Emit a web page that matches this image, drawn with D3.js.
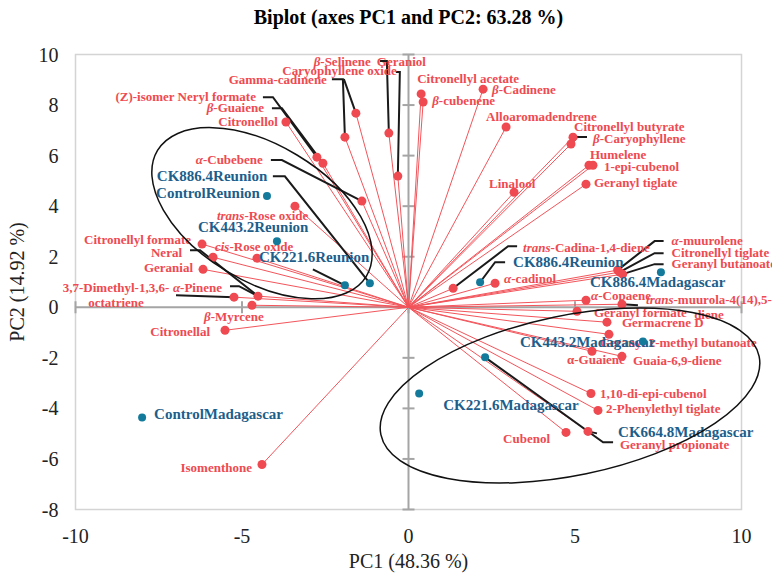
<!DOCTYPE html>
<html>
<head>
<meta charset="utf-8">
<script src="https://cdn.jsdelivr.net/npm/d3@7"></script>
<style>
  html, body { margin: 0; padding: 0; background: #fff; }
  svg { display: block; font-family: "Liberation Serif", "Times New Roman", serif; }
</style>
</head>
<body>
<svg id="chart" width="772" height="576"></svg>
<script>
// Variable loadings (PC1, PC2)
const varNames = [
  "(Z)-isomer Neryl formate", "β-Guaiene", "Citronellol", "Gamma-cadinene", "β-Selinene",
  "Geraniol", "Caryophyllene oxide", "Citronellyl acetate", "β-cubenene", "β-Cadinene",
  "Alloaromadendrene", "Linalool", "Citronellyl butyrate", "β-Caryophyllene", "Humelene",
  "1-epi-cubenol", "Geranyl tiglate", "α-Cubebene", "trans-Rose oxide", "cis-Rose oxide",
  "Citronellyl formate", "Neral", "Geranial", "3,7-Dimethyl-1,3,6-octatriene", "α-Pinene",
  "β-Myrcene", "Citronellal", "Isomenthone", "trans-Cadina-1,4-diene", "α-cadinol",
  "α-muurolene", "Citronellyl tiglate", "Geranyl butanoate", "α-Copaene", "trans-muurola-4(14),5-diene",
  "Geranyl formate", "Germacrene D", "Geranyl 2-methyl butanoate", "α-Guaiene", "Guaia-6,9-diene",
  "1,10-di-epi-cubenol", "2-Phenylethyl tiglate", "Cubenol", "Geranyl propionate"
];
const varPC1 = [
  -2.75, -2.57, -3.68, -1.91, -1.58,
  -0.59, -0.32, 0.38, 0.44, 2.24,
  2.93, 3.17, 4.94, 4.88, 5.42,
  5.54, 5.33, -1.40, -3.41, -4.55,
  -6.20, -5.87, -6.17, -5.24, -4.52,
  -4.70, -5.51, -4.40, 1.34, 2.60,
  6.28, 6.34, 6.43, 5.33, 6.41,
  5.06, 5.96, 6.02, 5.51, 6.41,
  5.48, 5.69, 4.73, 5.39
];
const varPC2 = [
  5.94, 5.70, 7.33, 6.73, 7.68,
  6.89, 5.19, 8.44, 8.12, 8.63,
  7.13, 4.55, 6.73, 6.46, 5.62,
  5.62, 4.87, 4.20, 4.00, 1.94,
  2.50, 1.98, 1.50, 0.40, 0.44,
  0.08, -0.91, -6.22, 0.75, 0.95,
  1.47, 1.39, 1.31, 0.28, 0.12,
  -0.16, -0.59, -1.07, -1.74, -1.94,
  -3.41, -4.08, -4.95, -4.91
];

// Observation scores (PC1, PC2)
const obsNames = [
  "ControlReunion", "CK443.2Reunion", "CK221.6Reunion", "CK886.4Reunion", "CK886.4Reunion",
  "CK886.4Madagascar", "CK443.2Madagascar", "CK664.8Madagascar", "CK221.6Madagascar", "ControlMadagascar"
];
const obsPC1 = [-4.25, -3.95, -1.91, -1.16, 2.15, 7.58, 7.04, 2.30, 0.32, -8.00];
const obsPC2 = [4.40, 2.61, 0.87, 0.95, 0.99, 1.39, -1.35, -1.98, -3.41, -4.36];

// Axis ticks
const xTicks = [-10, -5, 0, 5, 10];
const yTicks = [-8, -6, -4, -2, 0, 2, 4, 6, 8, 10];

// Group ellipses: centre, semi-axes (PC1 units), rotation on screen (deg)
const groupEllipses = [
  { cx: -4.40, cy: 3.72, rx: 3.66, ry: 2.04, angle: 31 },
  { cx: 4.85, cy: -3.49, rx: 5.80, ry: 2.40, angle: -11.7 }
];

// Label placement, pixel offsets from the point: [dx, dy, anchor, leader, lines]
// leader: [startDx, startDy, elbowDx, targetIndex?]
const varLabelLayout = [
  [-61, -60, "end", [-54, -60, -44]],
  [-59, -55, "end", [-51, -55, -41]],
  [-8, 0, "end"],
  [-18, -57, "end", [-13, -58, -2]],
  [15, -51, "end", [-12, -34, -12]],
  [-12, -71, "start", [-9, -72, -2]],
  [-1, -105, "end", [-2, -104, 2]],
  [-4, -15, "start"],
  [9, -1, "start"],
  [9, 1, "start"],
  [-20, -10, "start"],
  [-25, -9, "start"],
  [1, -10, "start"],
  [22, -5, "start", [16, -7, 6]],
  [1, -11, "start"],
  [11, 1, "start"],
  [8, -1, "start"],
  [-99, -41, "end", [-91, -41, -80]],
  [-78, 10, "start"],
  [-42, -12, "start"],
  [-11, -4, "end"],
  [-31, -5, "end", [-23, -7, -13, 24]],
  [-10, -2, "end"],
  [-118, -9, "middle", [-58, -2, -58], ["3,7-Dimethyl-1,3,6-", "octatriene"]],
  [-36, -8, "end", [-28, -10, -19]],
  [-48, 11, "start"],
  [-15, 1, "end"],
  [-10, 3, "end"],
  [70, -41, "start", [64, -42, 55]],
  [9, -5, "start"],
  [54, -29, "start", [46, -29, 37]],
  [52, -19, "start", [44, -19, 35]],
  [49, -10, "start", [41, -10, 32]],
  [5, -4, "start"],
  [87, -5, "middle", [16, 1, 16], ["trans-muurola-4(14),5-", "diene"]],
  [17, 1, "start"],
  [15, 1, "start"],
  [-9, 8, "start"],
  [-25, 8, "start"],
  [11, 4, "start"],
  [9, 0, "start"],
  [8, -2, "start"],
  [-16, 6, "end"],
  [32, 13, "start", [9, 2, 9]]
];
const obsLabelLayout = [
  [-7, -3, "end"],
  [-79, -14, "start"],
  [-86, -28, "start", [-32, -16, -32]],
  [-213, -107, "start", [-97, -107, -85]],
  [33, -20, "start", [25, -20, 15]],
  [-71, 10, "start"],
  [-123, 1, "start"],
  [133, 75, "start", [128, 85, 118]],
  [24, 12, "start"],
  [12, -3, "start"]
];

const RED = "#ef4a51", RED_LINE = "#f2555b", BLUE_TXT = "#1d5e8b", BLUE_DOT = "#137a9b";

const svg = d3.select("#chart");
const W = 772, H = 576;
const margin = { top: 54.5, right: 30.5, bottom: 66.5, left: 75.5 };

const x = d3.scaleLinear().domain([-10, 10]).range([margin.left, W - margin.right]);
const y = d3.scaleLinear().domain([-8, 10]).range([H - margin.bottom, margin.top]);
const unitPx = x(1) - x(0);

// Title
svg.append("text")
  .attr("x", x(0)).attr("y", 24)
  .attr("text-anchor", "middle")
  .attr("font-size", 20).attr("font-weight", "bold")
  .text("Biplot (axes PC1 and PC2: 63.28 %)");

// Plot frame
svg.append("rect")
  .attr("x", x(-10)).attr("y", y(10))
  .attr("width", x(10) - x(-10)).attr("height", y(-8) - y(10))
  .attr("fill", "none").attr("stroke", "#d4d4d4").attr("stroke-width", 1.5);

// Tick labels
svg.append("g").selectAll("text").data(xTicks).join("text")
  .attr("x", d => x(d)).attr("y", y(-8) + 33)
  .attr("text-anchor", "middle").attr("font-size", 20).attr("fill", "#222")
  .text(d => d);
svg.append("g").selectAll("text").data(yTicks).join("text")
  .attr("x", x(-10) - 17).attr("y", d => y(d) + 7)
  .attr("text-anchor", "end").attr("font-size", 20).attr("fill", "#222")
  .text(d => d);

// Axis titles
svg.append("text")
  .attr("x", x(0)).attr("y", H - 8)
  .attr("text-anchor", "middle").attr("font-size", 20).attr("fill", "#222")
  .text("PC1 (48.36 %)");
svg.append("text")
  .attr("transform", `translate(24,${y(1)}) rotate(-90)`)
  .attr("text-anchor", "middle").attr("font-size", 20).attr("fill", "#222")
  .text("PC2 (14.92 %)");

// Zero axes with cross ticks
const axisG = svg.append("g").attr("stroke", "#a5a5a5").attr("stroke-width", 2);
axisG.append("line").attr("x1", x(-10)).attr("x2", x(10)).attr("y1", y(0)).attr("y2", y(0));
axisG.append("line").attr("x1", x(0)).attr("x2", x(0)).attr("y1", y(-8)).attr("y2", y(10));
axisG.selectAll("line.yt").data(yTicks).join("line").attr("class", "yt")
  .attr("x1", x(0) - 6).attr("x2", x(0) + 6)
  .attr("y1", d => y(d)).attr("y2", d => y(d));
axisG.selectAll("line.xt").data(xTicks).join("line").attr("class", "xt")
  .attr("x1", d => x(d)).attr("x2", d => x(d))
  .attr("y1", y(0) - 6).attr("y2", y(0) + 6);

const vars = varNames.map((n, i) => ({ name: n, px: x(varPC1[i]), py: y(varPC2[i]), lay: varLabelLayout[i] }));
const obs = obsNames.map((n, i) => ({ name: n, px: x(obsPC1[i]), py: y(obsPC2[i]), lay: obsLabelLayout[i] }));

// Loading vectors
svg.append("g").selectAll("line").data(vars).join("line")
  .attr("x1", x(0)).attr("y1", y(0))
  .attr("x2", d => d.px).attr("y2", d => d.py)
  .attr("stroke", RED_LINE).attr("stroke-width", 1);

// Leader lines
function leaderPath(d, list) {
  const L = d.lay[3];
  const tgt = L.length > 3 ? list[L[3]] : d;
  return d3.line()([[d.px + L[0], d.py + L[1]], [d.px + L[2], d.py + L[1]], [tgt.px, tgt.py]]);
}
const leadG = svg.append("g").attr("fill", "none").attr("stroke", "#1a1a1a").attr("stroke-width", 2);
leadG.selectAll("path.v").data(vars.filter(d => d.lay[3])).join("path").attr("class", "v")
  .attr("d", d => leaderPath(d, vars));
leadG.selectAll("path.o").data(obs.filter(d => d.lay[3])).join("path").attr("class", "o")
  .attr("d", d => leaderPath(d, obs));

// Variable labels, with italic stereo prefixes
const italicPrefix = /^(α|β|trans|cis)-/;
function addRich(textSel, str, noItalic) {
  const m = str.match(italicPrefix);
  if (m && !noItalic) {
    textSel.append("tspan").attr("font-style", "italic").text(m[1]);
    textSel.append("tspan").text(str.slice(m[1].length));
  } else {
    textSel.append("tspan").text(str);
  }
}
const varLab = svg.append("g").attr("font-size", 13).attr("font-weight", "bold").attr("fill", RED);
vars.forEach(d => {
  const [dx, dy, anchor] = d.lay;
  const lines = d.lay[4] || [d.name];
  lines.forEach((ln, k) => {
    const t = varLab.append("text")
      .attr("x", d.px + dx).attr("y", d.py + dy + k * 15)
      .attr("dy", "0.33em").attr("text-anchor", anchor);
    addRich(t, ln, d.name === "α-Guaiene");
  });
});

// Variable points
svg.append("g").selectAll("circle").data(vars).join("circle")
  .attr("cx", d => d.px).attr("cy", d => d.py).attr("r", 4.5)
  .attr("fill", RED);

// Observation labels
svg.append("g").attr("font-size", 15).attr("font-weight", "bold").attr("fill", BLUE_TXT)
  .selectAll("text").data(obs).join("text")
  .attr("x", d => d.px + d.lay[0]).attr("y", d => d.py + d.lay[1])
  .attr("dy", "0.33em").attr("text-anchor", d => d.lay[2])
  .text(d => d.name);

// Observation points
svg.append("g").selectAll("circle").data(obs).join("circle")
  .attr("cx", d => d.px).attr("cy", d => d.py).attr("r", 4)
  .attr("fill", BLUE_DOT);

// Group ellipses
svg.append("g").selectAll("ellipse").data(groupEllipses).join("ellipse")
  .attr("transform", d => `translate(${x(d.cx)},${y(d.cy)}) rotate(${d.angle})`)
  .attr("rx", d => d.rx * unitPx).attr("ry", d => d.ry * unitPx)
  .attr("fill", "none").attr("stroke", "#111").attr("stroke-width", 1.5);
</script>
</body>
</html>
